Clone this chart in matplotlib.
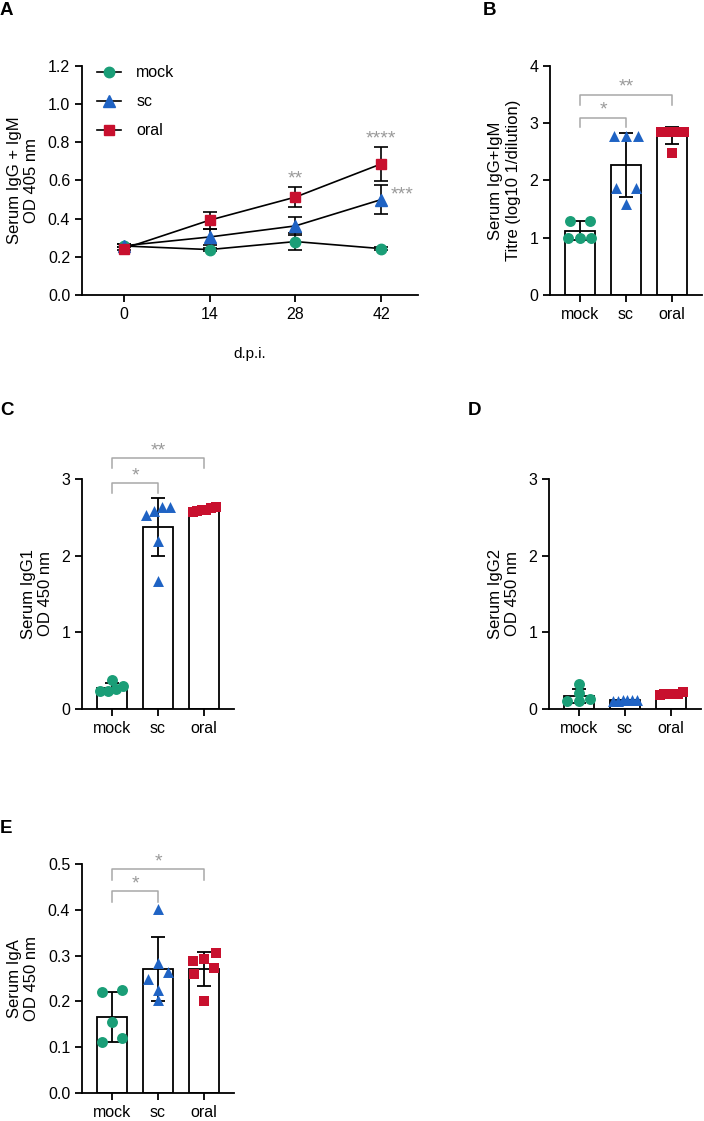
import numpy as np
import matplotlib.pyplot as plt
from matplotlib.lines import Line2D

# ---------------- data ----------------
groups = ['mock', 'sc', 'oral']

# panel A: time course (mean, sd)
days = [0, 14, 28, 42]
a_mock_mean = [0.257, 0.238, 0.280, 0.243]
a_mock_sd = [0.008, 0.008, 0.044, 0.008]
a_sc_mean = [0.258, 0.304, 0.362, 0.500]
a_sc_sd = [0.008, 0.040, 0.046, 0.074]
a_oral_mean = [0.243, 0.392, 0.513, 0.687]
a_oral_sd = [0.008, 0.045, 0.053, 0.090]
a_stars = [('**', 28, 'oral'), ('****', 42, 'oral'), ('***', 42, 'sc')]

# panel B: titre per animal
b_mock = [1.30, 1.30, 1.00, 1.00, 1.00]
b_sc = [2.78, 2.78, 2.78, 1.87, 1.87, 1.59]
b_oral = [2.85, 2.85, 2.85, 2.85, 2.85, 2.48]

# panel C: IgG1
c_mock = [0.38, 0.30, 0.23, 0.23, 0.26]
c_sc = [2.63, 2.53, 2.58, 2.63, 2.19, 1.67]
c_oral = [2.63, 2.60, 2.62, 2.58, 2.57, 2.60]

# panel D: IgG2
d_mock = [0.32, 0.21, 0.10, 0.11, 0.13]
d_sc = [0.11, 0.12, 0.12, 0.11, 0.12, 0.12]
d_oral = [0.22, 0.19, 0.20, 0.19, 0.18, 0.19]

# panel E: IgA
e_mock = [0.224, 0.221, 0.155, 0.111, 0.119]
e_sc = [0.402, 0.283, 0.265, 0.250, 0.224, 0.204]
e_oral = [0.289, 0.292, 0.306, 0.274, 0.259, 0.201]

# ---------------- style ----------------
plt.rcParams['font.family'] = ['Liberation Sans', 'DejaVu Sans']
plt.rcParams['font.size'] = 11.5
colors = {'mock': '#1a9e77', 'sc': '#1f63c4', 'oral': '#c8102e'}
markers = {'mock': 'o', 'sc': '^', 'oral': 's'}
star_color = '#9a9a9a'
W, H = 704, 1121

fig = plt.figure(figsize=(W / 100, H / 100), dpi=100)


def add_axes_px(left, top, right, bottom):
    return fig.add_axes([left / W, 1 - bottom / H, (right - left) / W, (bottom - top) / H])


def style_axes(ax):
    for s in ['top', 'right']:
        ax.spines[s].set_visible(False)
    for s in ['left', 'bottom']:
        ax.spines[s].set_linewidth(1.3)
    ax.tick_params(width=1.3, length=5, labelsize=11.5)


def spread(vals, tol, step=0.42, maxw=0.5):
    """GraphPad-like horizontal scatter of points with similar values."""
    vals = np.asarray(vals, dtype=float)
    order = np.argsort(vals)
    offs = np.zeros(len(vals))
    clusters = []
    for idx in order:
        if clusters and vals[idx] - vals[clusters[-1][0]] <= tol:
            clusters[-1].append(idx)
        else:
            clusters.append([idx])
    for cl in clusters:
        k = len(cl)
        if k > 1:
            st = min(step, maxw / (k - 1))
            offs[cl] = (np.arange(k) - (k - 1) / 2) * st
    return offs


def bar_panel(ax, data, ylim, yticks, ylabel, brackets, fmt=None):
    style_axes(ax)
    rng = ylim[1] - ylim[0]
    for i, (g, vals) in enumerate(zip(groups, data)):
        vals = np.asarray(vals)
        m, sd = vals.mean(), vals.std(ddof=1)
        ax.bar(i, m, width=0.65, color='white', edgecolor='black', linewidth=1.3, zorder=2)
        ax.errorbar(i, m, yerr=sd, color='black', lw=1.3, capsize=5, capthick=1.3, zorder=3)
        offs = spread(vals, 0.035 * rng)
        ax.scatter(i + offs, vals, s=62, marker=markers[g], color=colors[g],
                   linewidths=0, zorder=4, clip_on=False)
    for i, j, ytop, ydrop, lab in brackets:
        ax.plot([i, i, j, j], [ydrop, ytop, ytop, ydrop], color='#a8a8a8', lw=1.1, clip_on=False)
        ax.text((i + j) / 2, ytop - 0.005 * rng, lab, ha='center', va='bottom',
                color=star_color, fontsize=14)
    ax.set_xlim(-0.65, 2.65)
    ax.set_ylim(*ylim)
    ax.set_yticks(yticks)
    if fmt:
        ax.set_yticklabels([fmt.format(t) for t in yticks])
    ax.set_xticks(range(3))
    ax.set_xticklabels(groups)
    ax.set_ylabel(ylabel, fontsize=12, labelpad=6)


# ---------------- panel A ----------------
axA = add_axes_px(82, 66, 418, 295)
style_axes(axA)
series = [('mock', a_mock_mean, a_mock_sd), ('sc', a_sc_mean, a_sc_sd), ('oral', a_oral_mean, a_oral_sd)]
for g, m, sd in series:
    axA.errorbar(days, m, yerr=sd, color='black', lw=1.2, capsize=5, capthick=1.2,
                 marker=markers[g], ms=8 if g == 'sc' else 7.5, mfc=colors[g], mec=colors[g],
                 zorder=3, clip_on=False)
means = {g: (m, sd) for g, m, sd in series}
for lab, d, g in a_stars:
    k = days.index(d)
    m, sd = means[g]
    if lab == '***':
        axA.text(d + 1.6, m[k] - 0.02, lab, ha='left', va='bottom', color=star_color, fontsize=14)
    else:
        axA.text(d, m[k] + sd[k] - 0.005, lab, ha='center', va='bottom', color=star_color, fontsize=14)
axA.set_xlim(-6.8, 48)
axA.set_ylim(0, 1.2)
axA.set_xticks(days)
axA.set_yticks(np.arange(0, 1.21, 0.2))
axA.set_yticklabels(['%.1f' % t for t in np.arange(0, 1.21, 0.2)])
axA.set_xlabel('d.p.i.', fontsize=11, labelpad=18)
axA.set_ylabel('Serum IgG + IgM\nOD 405 nm', fontsize=12, labelpad=6)
handles = [Line2D([], [], color='black', lw=1.2, marker=markers[g], ms=8 if g == 'sc' else 7.5,
                  mfc=colors[g], mec=colors[g]) for g in groups]
axA.legend(handles, groups, loc='upper left', bbox_to_anchor=(0.045, 1.003), frameon=False,
           borderpad=0, borderaxespad=0, handlelength=1.5, handletextpad=0.95,
           labelspacing=0.88, fontsize=11.5)

# ---------------- panel B ----------------
axB = add_axes_px(550, 66, 702, 295)
bar_panel(axB, [b_mock, b_sc, b_oral], (0, 4), range(5),
          'Serum IgG+IgM\nTitre (log10 1/dilution)',
          [(0, 1, 3.1, 2.93, '*'), (0, 2, 3.5, 3.32, '**')])

# ---------------- panel C ----------------
axC = add_axes_px(82, 479, 234, 709)
bar_panel(axC, [c_mock, c_sc, c_oral], (0, 3), range(4), 'Serum IgG1\nOD 450 nm',
          [(0, 1, 2.95, 2.82, '*'), (0, 2, 3.27, 3.14, '**')])

# ---------------- panel D ----------------
axD = add_axes_px(549, 479, 701, 709)
bar_panel(axD, [d_mock, d_sc, d_oral], (0, 3), range(4), 'Serum IgG2\nOD 450 nm', [])

# ---------------- panel E ----------------
axE = add_axes_px(82, 864, 234, 1093)
bar_panel(axE, [e_mock, e_sc, e_oral], (0, 0.5), np.arange(0, 0.51, 0.1), 'Serum IgA\nOD 450 nm',
          [(0, 1, 0.44, 0.418, '*'), (0, 2, 0.489, 0.466, '*')], fmt='{:.1f}')

# panel letters
for lab, x, y in [('A', 0, 2), ('B', 483, 2), ('C', 0, 402), ('D', 468, 402), ('E', 0, 820)]:
    fig.text(x / W, 1 - y / H, lab, fontsize=13.5, fontweight='bold', ha='left', va='top')

fig.savefig('out.png', dpi=100)
